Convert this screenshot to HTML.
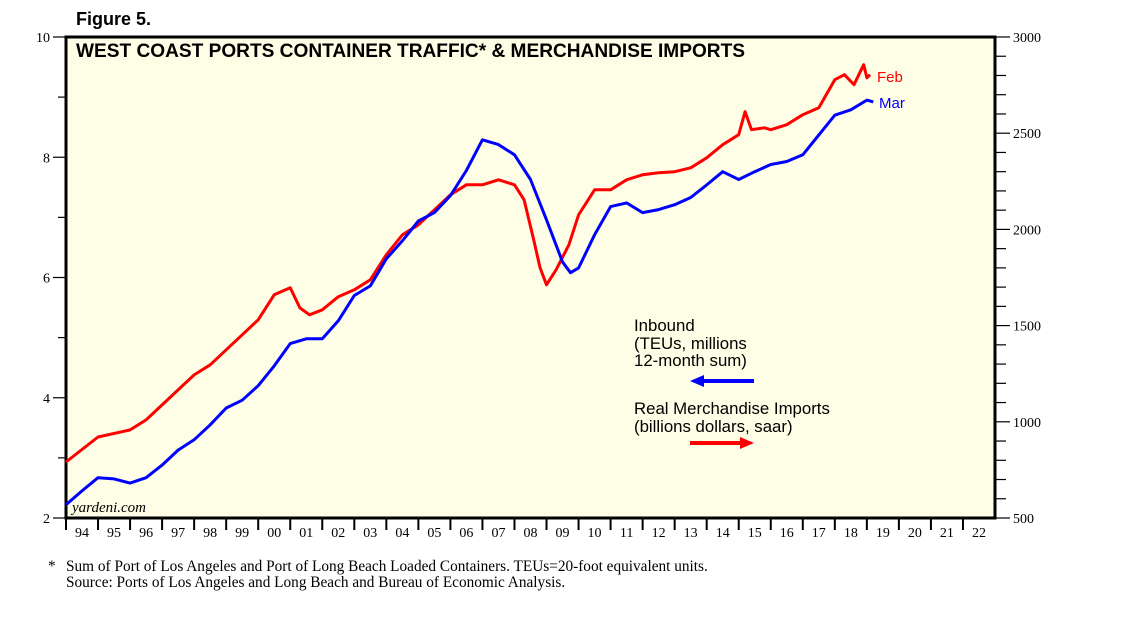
<!DOCTYPE html>
<html><head><meta charset="utf-8"><style>
body{margin:0;background:#fff;}
svg{display:block;}
</style></head><body>
<svg id="chart" width="1138" height="621" xmlns="http://www.w3.org/2000/svg">
<text x="76" y="25" font-family="Liberation Sans, sans-serif" font-weight="bold" font-size="18">Figure 5.</text>
<rect x="66" y="37" width="929" height="481" fill="#fefee6" stroke="#000" stroke-width="3"/>
<text x="76" y="57" font-family="Liberation Sans, sans-serif" font-weight="bold" font-size="19.1">WEST COAST PORTS CONTAINER TRAFFIC* &amp; MERCHANDISE IMPORTS</text>
<g id="axes"></g>
<g id="series"></g>
<text x="72" y="512" font-family="Liberation Serif, serif" font-style="italic" font-size="15">yardeni.com</text>
<g font-family="Liberation Sans, sans-serif" font-size="16.8">
<text x="634" y="331" fill="#000">Inbound</text>
<text x="634" y="349" fill="#000">(TEUs, millions</text>
<text x="634" y="366" fill="#000">12-month sum)</text>
<line x1="702" y1="381" x2="754" y2="381" stroke="#0000ff" stroke-width="4"/>
<polygon points="690,381 704,375 704,387" fill="#0000ff"/>
<text x="634" y="414" fill="#000">Real Merchandise Imports</text>
<text x="634" y="432" fill="#000">(billions dollars, saar)</text>
<line x1="690" y1="443" x2="742" y2="443" stroke="#ff0000" stroke-width="4"/>
<polygon points="754,443 740,437 740,449" fill="#ff0000"/>
</g>
<text x="877" y="82" fill="#ff0000" font-family="Liberation Sans, sans-serif" font-size="15">Feb</text>
<text x="879" y="108" fill="#0000ff" font-family="Liberation Sans, sans-serif" font-size="15">Mar</text>
<g font-family="Liberation Serif, serif" font-size="15.3">
<text x="48" y="571">*</text>
<text x="66" y="571">Sum of Port of Los Angeles and Port of Long Beach Loaded Containers. TEUs=20-foot equivalent units.</text>
<text x="66" y="587">Source: Ports of Los Angeles and Long Beach and Bureau of Economic Analysis.</text>
</g>
</svg>
<script>
const yearLabels=["94","95","96","97","98","99","00","01","02","03","04","05","06","07","08","09","10","11","12","13","14","15","16","17","18","19","20","21","22"];
const leftTicks=[2,4,6,8,10];
const rightTicks=[500,1000,1500,2000,2500,3000];
const inboundT=[1994.0,1994.5,1995.0,1995.5,1996.0,1996.5,1997.0,1997.5,1998.0,1998.5,1999.0,1999.5,2000.0,2000.5,2001.0,2001.5,2002.0,2002.5,2003.0,2003.5,2004.0,2004.5,2005.0,2005.5,2006.0,2006.5,2007.0,2007.5,2008.0,2008.5,2009.0,2009.5,2009.75,2010.0,2010.5,2011.0,2011.5,2012.0,2012.5,2013.0,2013.5,2014.0,2014.5,2015.0,2015.5,2016.0,2016.5,2017.0,2017.5,2018.0,2018.5,2019.0,2019.2];
const inboundV=[2.22,2.45,2.67,2.65,2.58,2.67,2.88,3.13,3.30,3.55,3.83,3.96,4.20,4.53,4.90,4.98,4.98,5.28,5.70,5.86,6.31,6.61,6.94,7.08,7.36,7.78,8.29,8.21,8.04,7.63,6.96,6.26,6.08,6.16,6.71,7.18,7.24,7.08,7.13,7.21,7.33,7.54,7.76,7.63,7.76,7.88,7.93,8.04,8.37,8.70,8.79,8.95,8.92];
const importsT=[1994.0,1995.0,1996.0,1996.5,1997.0,1997.5,1998.0,1998.5,1999.0,1999.5,2000.0,2000.5,2001.0,2001.3,2001.6,2002.0,2002.5,2003.0,2003.5,2004.0,2004.5,2005.0,2005.5,2006.0,2006.5,2007.0,2007.5,2008.0,2008.3,2008.6,2008.8,2009.0,2009.3,2009.7,2010.0,2010.5,2011.0,2011.5,2012.0,2012.5,2013.0,2013.5,2014.0,2014.5,2015.0,2015.2,2015.4,2015.8,2016.0,2016.5,2017.0,2017.5,2018.0,2018.3,2018.6,2018.9,2019.0,2019.1];
const importsV=[791,921,958,1010,1088,1166,1244,1296,1374,1452,1530,1660,1697,1592,1556,1582,1650,1686,1738,1868,1972,2024,2102,2180,2232,2232,2258,2232,2154,1946,1800,1712,1790,1920,2076,2206,2206,2258,2284,2294,2300,2320,2372,2440,2492,2612,2518,2528,2518,2544,2596,2632,2778,2804,2752,2856,2788,2804];

const NS="http://www.w3.org/2000/svg";
const X0=66,X1=995,Y0=37,Y1=518;
function xs(t){return X0+(t-1994)*(X1-X0)/29;}
function yl(v){return Y1-(v-2)*(Y1-Y0)/8;}
function yr(v){return Y1-(v-500)*(Y1-Y0)/2500;}
function mk(tag,attrs,parent){const e=document.createElementNS(NS,tag);for(const k in attrs)e.setAttribute(k,attrs[k]);parent.appendChild(e);return e;}
const axes=document.getElementById('axes');
const series=document.getElementById('series');
for(let v=2;v<=10;v+=1){
  const major=leftTicks.includes(v);
  const t=mk('line',{x1:major?53:58,x2:X0,y1:yl(v),y2:yl(v),stroke:'#000','stroke-width':1.2},axes);
  
  
}
leftTicks.forEach(v=>{
  const t=mk('text',{x:50,y:yl(v)+5,'text-anchor':'end','font-family':'Liberation Serif, serif','font-size':14},axes);
  t.textContent=v;
  
  
});
for(let v=500;v<=3000;v+=100){
  const major=rightTicks.includes(v);
  const t=mk('line',{x1:X1,x2:major?1010:1006,y1:yr(v),y2:yr(v),stroke:'#000','stroke-width':1.2},axes);
  
  
}
rightTicks.forEach(v=>{
  const t=mk('text',{x:1013,y:yr(v)+5,'font-family':'Liberation Serif, serif','font-size':14},axes);
  t.textContent=v;
  
  
});
yearLabels.forEach((lab,i)=>{
  const x=xs(1994+i);
  const t=mk('line',{x1:x,x2:x,y1:Y1,y2:Y1+12,stroke:'#000','stroke-width':2},axes);
  
  
  const l=mk('text',{x:x+16,y:537,'text-anchor':'middle','font-family':'Liberation Serif, serif','font-size':14},axes);
  l.textContent=lab;
  
  
});
function path(T,V,yf){return T.map((t,i)=>(i?'L':'M')+xs(t).toFixed(1)+','+yf(V[i]).toFixed(1)).join(' ');}
const red=mk('path',{d:path(importsT,importsV,yr),fill:'none',stroke:'#ff0000','stroke-width':3,'stroke-linejoin':'round'},series);


const blue=mk('path',{d:path(inboundT,inboundV,yl),fill:'none',stroke:'#0000ff','stroke-width':3,'stroke-linejoin':'round'},series);


</script>
</body></html>
